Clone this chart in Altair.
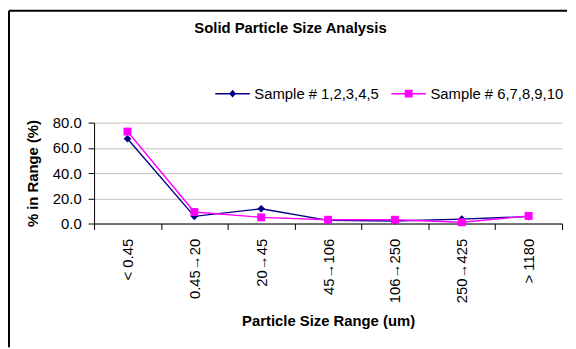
import altair as alt
import pandas as pd

# ---- data ----
categories = ["< 0.45", "0.45→20", "20→45", "45→106", "106→250", "250→425", "> 1180"]
series_names = ["Sample # 1,2,3,4,5", "Sample # 6,7,8,9,10"]
sample_1_5 = [67.2, 5.7, 11.7, 2.5, 2.0, 3.5, 5.5]
sample_6_10 = [72.9, 9.1, 4.9, 3.0, 3.0, 1.0, 6.0]
y_ticks = [0, 20, 40, 60, 80]
chart_title = "Solid Particle Size Analysis"
x_title = "Particle Size Range (um)"
y_title = "% in Range (%)"
colors = ["#000080", "#FF00FF"]
markers = ["diamond", "square"]
marker_sizes = [60, 64]

rows = []
for s, vals in zip(series_names, [sample_1_5, sample_6_10]):
    for c, v in zip(categories, vals):
        rows.append({"category": c, "series": s, "value": v})
df = pd.DataFrame(rows)

FONT = "Liberation Sans"
W, H = 473, 102

# legend symbols: line segment with marker (unit = sqrt(size)/2 = 5px)
leg_path_1 = "M-1,-0.15H6V0.15H-1Z M2.5,-0.8L3.2,0L2.5,0.8L1.8,0Z"
leg_path_2 = "M-1,-0.15H6V0.15H-1Z M1.7,-0.8H3.3V0.8H1.7Z"

legend = alt.Legend(
    orient="none", legendX=120, legendY=-37, direction="horizontal", title=None,
    labelFont=FONT, labelFontSize=15, labelColor="#000", labelOffset=27,
    columnPadding=10, symbolSize=100, padding=0,
    symbolStrokeWidth=0, symbolOpacity=1,
)

x_enc = alt.X(
    "category:N", sort=categories,
    scale=alt.Scale(type="band", paddingInner=0, paddingOuter=0),
    bandPosition=0.5,
    axis=alt.Axis(
        title=x_title, labelAngle=270, tickBand="extent", grid=False,
        labelFont=FONT, labelFontSize=15, labelColor="#000",
        titleFont=FONT, titleFontSize=15, titleFontWeight="bold", titleColor="#000",
        tickSize=6, labelPadding=9, titlePadding=11,
        domainColor="#000", tickColor="#000",
    ),
)
y_enc = alt.Y(
    "value:Q",
    scale=alt.Scale(domain=[0, 80], nice=False, zero=True),
    axis=alt.Axis(
        values=y_ticks, format=".1f", title=y_title,
        labelFont=FONT, labelFontSize=15, labelColor="#000",
        titleFont=FONT, titleFontSize=15, titleFontWeight="bold", titleColor="#000",
        tickSize=6, labelPadding=7, titlePadding=12,
        domainColor="#000", tickColor="#000",
        grid=True, gridColor="#C0C0C0", gridWidth=1,
    ),
)

series_lines = []
series_points = []
for name, col, mk, ms in zip(series_names, colors, markers, marker_sizes):
    base = alt.Chart(df).transform_filter(alt.datum.series == name)
    series_lines.append(base.mark_line(strokeWidth=1.4, color=col).encode(x=x_enc, y=y_enc))
    series_points.append(base.mark_point(filled=True, opacity=1, size=ms, shape=mk, color=col).encode(x=x_enc, y=y_enc))

# legend-carrying layer (draws no rows)
leg_layer = alt.Chart(df).transform_filter("false").mark_point(filled=True, size=100).encode(
    x=x_enc, y=y_enc,
    color=alt.Color("series:N", scale=alt.Scale(domain=series_names, range=colors), legend=legend),
    shape=alt.Shape("series:N", scale=alt.Scale(domain=series_names, range=[leg_path_1, leg_path_2]), legend=legend),
)

one = pd.DataFrame({"t": [chart_title]})
frame_top = alt.Chart(one).mark_rule(color="#000", strokeWidth=2).encode(
    x=alt.value(-86), x2=alt.value(478), y=alt.value(-113))
frame_left = alt.Chart(one).mark_rule(color="#000", strokeWidth=2).encode(
    x=alt.value(-86), y=alt.value(-113), y2=alt.value(227))
title_layer = alt.Chart(one).mark_text(
    font=FONT, fontSize=15, fontWeight="bold", align="center", baseline="middle", color="#000"
).encode(x=alt.value(198.5), y=alt.value(-96), text="t:N")

chart = alt.layer(frame_top, frame_left, title_layer, *series_lines, *series_points, leg_layer).properties(
    width=W, height=H, padding=0, background="white"
).configure_view(stroke=None)

chart.save("out.html", embed_options={"renderer": "svg", "actions": False})
